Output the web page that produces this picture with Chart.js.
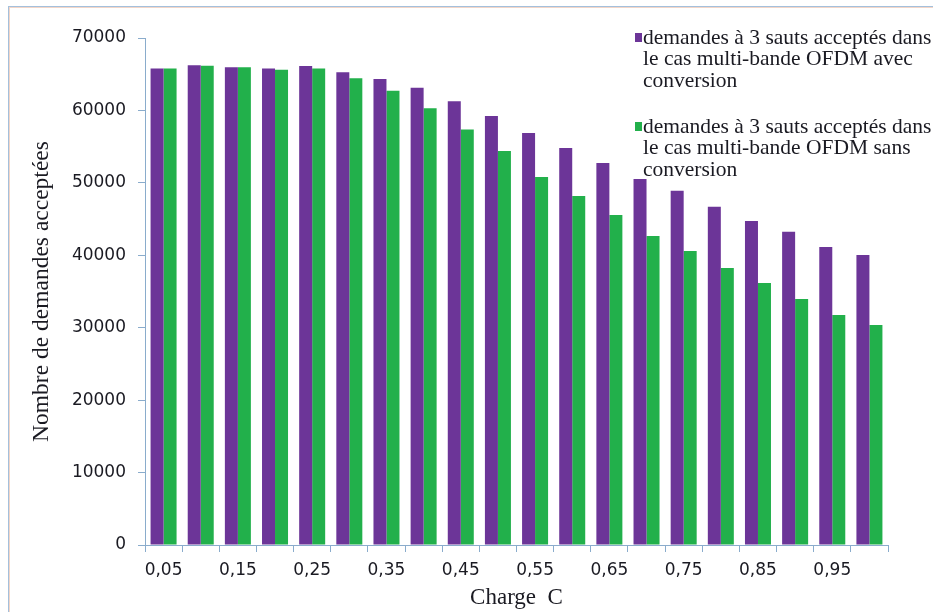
<!DOCTYPE html>
<html>
<head>
<meta charset="utf-8">
<script src="https://cdn.jsdelivr.net/npm/chart.js@4.4.0/dist/chart.umd.min.js"></script>
<style>
  html, body { margin: 0; padding: 0; background: #fff; }
  #graphique { display: block; }
</style>
</head>
<body>
<canvas id="graphique" width="933" height="612"></canvas>
<script>
/** Les données */
const charges = ['0,05', '0,10', '0,15', '0,20', '0,25', '0,30', '0,35', '0,40', '0,45', '0,50',
                 '0,55', '0,60', '0,65', '0,70', '0,75', '0,80', '0,85', '0,90', '0,95', '1,00'];
const avecConversion = [65800, 66250, 65950, 65800, 66130, 65260, 64340, 63140, 61260, 59230,
                        56900, 54800, 52740, 50530, 48900, 46700, 44750, 43250, 41150, 40040];
const sansConversion = [65800, 66180, 65950, 65630, 65800, 64430, 62730, 60290, 57350, 54400,
                        50800, 48200, 45560, 42660, 40600, 38250, 36170, 33970, 31760, 30380];
const ticksY = [0, 10000, 20000, 30000, 40000, 50000, 60000, 70000];

/** Libellés de la légende, découpés comme sur l'original */
const legendeAvec = ['demandes à 3 sauts acceptés dans', 'le cas multi-bande OFDM avec', 'conversion'];
const legendeSans = ['demandes à 3 sauts acceptés dans', 'le cas multi-bande OFDM sans', 'conversion'];

const violet = '#6c3598';
const vert = '#22b04b';
const couleurAxe = '#8aaccc';
const couleurTexte = '#1a1a22';
const policeSerif = '"Liberation Serif", "Times New Roman", serif';

/* Cadre autour du graphique */
const cadre = {
  id: 'cadre',
  beforeDraw(chart) {
    const ctx = chart.ctx;
    ctx.save();
    ctx.fillStyle = '#fff';
    ctx.fillRect(0, 0, chart.width, chart.height);
    ctx.strokeStyle = '#f3d6c8';
    ctx.lineWidth = 1;
    ctx.strokeRect(9.5, 7.5, chart.width, chart.height);
    ctx.strokeStyle = '#a4c0dc';
    ctx.strokeRect(8.5, 6.5, chart.width, chart.height);
    ctx.restore();
  }
};

/* Légende sur plusieurs lignes, posée sur la zone de tracé */
const legende = {
  id: 'legende',
  afterDraw(chart) {
    const ctx = chart.ctx;
    const blocs = [legendeAvec, legendeSans];
    const hauts = [38, 127];
    ctx.save();
    ctx.font = '21.5px ' + policeSerif;
    ctx.textBaseline = 'middle';
    ctx.textAlign = 'left';
    chart.data.datasets.forEach((ds, i) => {
      ctx.fillStyle = ds.backgroundColor;
      ctx.fillRect(635, hauts[i] - 5, 7, 9);
      ctx.fillStyle = couleurTexte;
      blocs[i].forEach((ligne, j) => {
        ctx.fillText(ligne, 643, hauts[i] + j * 21.5);
      });
    });
    ctx.restore();
  }
};

const ctx = document.getElementById('graphique').getContext('2d');
new Chart(ctx, {
  type: 'bar',
  data: {
    labels: charges,
    datasets: [
      { label: legendeAvec.join(' '), data: avecConversion, backgroundColor: violet,
        categoryPercentage: 0.7, barPercentage: 1.0 },
      { label: legendeSans.join(' '), data: sansConversion, backgroundColor: vert,
        categoryPercentage: 0.7, barPercentage: 1.0 }
    ]
  },
  options: {
    responsive: false,
    animation: false,
    layout: { padding: { left: 0, right: 45, top: 38, bottom: 0 } },
    plugins: {
      legend: { display: false },
      tooltip: { enabled: false }
    },
    scales: {
      x: {
        offset: true,
        grid: { offset: true, drawOnChartArea: false, color: couleurAxe, tickLength: 7 },
        border: { color: couleurAxe },
        ticks: {
          autoSkip: false, maxRotation: 0, padding: 8, color: couleurTexte,
          font: { family: '"DejaVu Sans", sans-serif', size: 17 },
          callback: (v, i) => (i % 2 === 0 ? charges[i] : '')
        },
        title: {
          display: true, text: 'Charge  C', color: couleurTexte,
          font: { family: policeSerif, size: 23 },
          padding: { top: 0, bottom: 0 }
        },
        afterFit: (scale) => { scale.height = 67; }
      },
      y: {
        min: 0, max: 70000,
        afterBuildTicks: (scale) => { scale.ticks = ticksY.map(v => ({ value: v })); },
        grid: { drawOnChartArea: false, color: couleurAxe, tickLength: 7 },
        border: { color: couleurAxe },
        ticks: {
          padding: 12, color: couleurTexte,
          font: { family: '"DejaVu Sans", sans-serif', size: 17 },
          callback: (v) => String(v)
        },
        title: {
          display: true, text: 'Nombre de demandes acceptées', color: couleurTexte,
          font: { family: policeSerif, size: 23.5 },
          padding: { top: 28, bottom: 0 }
        },
        afterFit: (scale) => { scale.width = 145; }
      }
    }
  },
  plugins: [cadre, legende]
});
</script>
</body>
</html>
